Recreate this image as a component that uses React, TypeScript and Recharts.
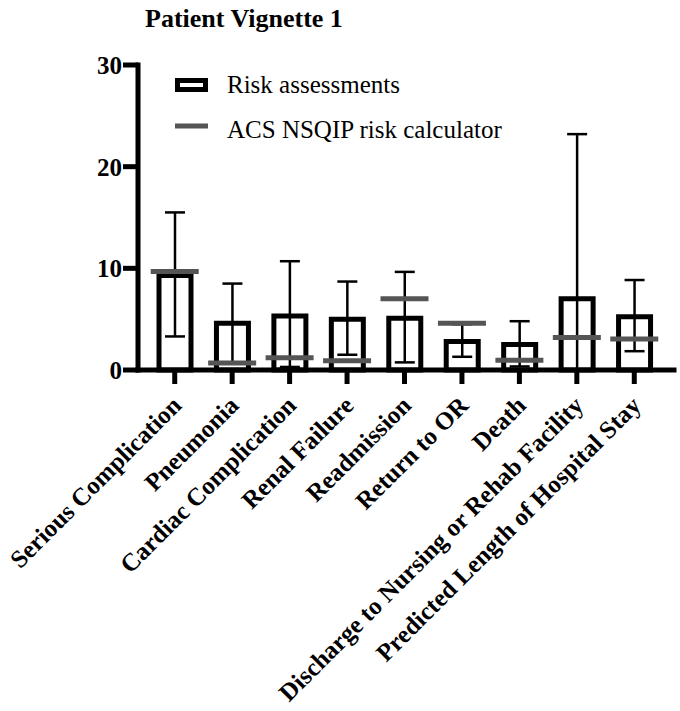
import React from 'react';
import { ComposedChart, Bar, ErrorBar, Line, XAxis, YAxis, Legend } from 'recharts';

const categories = [
  'Serious Complication',
  'Pneumonia',
  'Cardiac Complication',
  'Renal Failure',
  'Readmission',
  'Return to OR',
  'Death',
  'Discharge to Nursing or Rehab Facility',
  'Predicted Length of Hospital Stay',
];
const riskMean = [9.3, 4.6, 5.3, 5.0, 5.1, 2.8, 2.5, 7.0, 5.25];
const riskLow = [3.3, 0.7, 0.3, 1.5, 0.75, 1.3, 0.35, 0, 1.85];
const riskHigh = [15.5, 8.5, 10.7, 8.7, 9.65, 4.5, 4.8, 23.2, 8.85];
const nsqip = [9.7, 0.7, 1.2, 0.9, 7.0, 4.6, 0.95, 3.2, 3.05];
const yTicks = [0, 10, 20, 30];

const data = categories.map((name, i) => ({
  name,
  mean: riskMean[i],
  err: [riskMean[i] - riskLow[i], riskHigh[i] - riskMean[i]],
  nsqip: nsqip[i],
}));

const FONT = '"Liberation Serif", "Times New Roman", serif';
const GRAY = '#555555';

const XTick = (props: any) => {
  const { x, y, payload } = props;
  const tx = x + 8;
  const ty = y + 21;
  return (
    <text
      x={tx}
      y={ty}
      transform={`rotate(-45, ${tx}, ${ty})`}
      textAnchor="end"
      fontFamily={FONT}
      fontWeight="bold"
      fontSize={25}
      fill="#000"
    >
      {payload.value}
    </text>
  );
};

const NsqipDot = (props: any) => {
  const { cx, cy, index } = props;
  if (cx == null || cy == null) return <g key={`n${index}`} />;
  return (
    <line
      key={`n${index}`}
      x1={cx - 24}
      x2={cx + 24}
      y1={cy}
      y2={cy}
      stroke={GRAY}
      strokeWidth={5}
    />
  );
};

const LegendContent = () => (
  <svg width={360} height={82} style={{ display: 'block' }}>
    <rect x={7.5} y={15.5} width={28} height={9} fill="#fff" stroke="#000" strokeWidth={5} />
    <text x={57} y={28} fontFamily={FONT} fontSize={25} fill="#000">Risk assessments</text>
    <line x1={5} x2={38} y1={61} y2={61} stroke={GRAY} strokeWidth={5} />
    <text x={57} y={73} fontFamily={FONT} fontSize={25} fill="#000">ACS NSQIP risk calculator</text>
  </svg>
);

export default function App() {
  return (
    <div style={{ position: 'absolute', left: 0, top: 0, width: 680, height: 711, background: '#fff' }}>
      <svg width={680} height={40} style={{ position: 'absolute', left: 0, top: 0 }}>
        <text x={145} y={27} fontFamily={FONT} fontWeight="bold" fontSize={26} fill="#000">
          Patient Vignette 1
        </text>
      </svg>
      <div style={{ position: 'absolute', left: 0, top: 0 }}>
        <ComposedChart
          width={680}
          height={711}
          data={data}
          margin={{ top: 65, right: 6, bottom: 0, left: 0 }}
        >
          <XAxis
            dataKey="name"
            type="category"
            height={341}
            interval={0}
            padding={{ left: 8, right: 11 }}
            axisLine={{ stroke: '#000', strokeWidth: 5, strokeLinecap: 'square' }}
            tickLine={{ stroke: '#000', strokeWidth: 5 }}
            tickSize={14}
            tick={<XTick />}
          />
          <YAxis
            type="number"
            domain={[0, 30]}
            ticks={yTicks}
            width={138}
            axisLine={{ stroke: '#000', strokeWidth: 5, strokeLinecap: 'square' }}
            tickLine={{ stroke: '#000', strokeWidth: 5 }}
            tickSize={15}
            tickMargin={1}
            tick={{ fontFamily: FONT, fontWeight: 'bold', fontSize: 25, fill: '#000' }}
          />
          <Legend
            layout="vertical"
            align="center"
            verticalAlign="middle"
            wrapperStyle={{ top: 65, left: 170, width: 360, height: 82 }}
            content={<LegendContent />}
          />
          <Bar
            dataKey="mean"
            fill="#fff"
            stroke="#000"
            strokeWidth={5}
            barSize={32}
            isAnimationActive={false}
          >
            <ErrorBar dataKey="err" width={10} stroke="#000" strokeWidth={2.5} />
          </Bar>
          <Line
            dataKey="nsqip"
            stroke="none"
            dot={NsqipDot}
            activeDot={false}
            legendType="none"
            isAnimationActive={false}
          />
        </ComposedChart>
      </div>
    </div>
  );
}
